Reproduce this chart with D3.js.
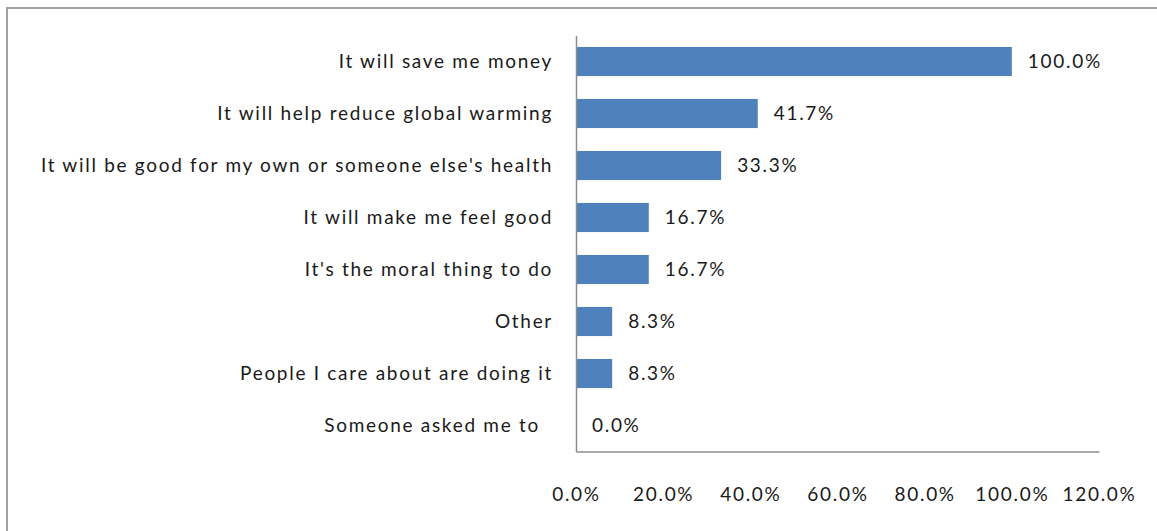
<!DOCTYPE html>
<html>
<head>
<meta charset="utf-8">
<script src="https://cdn.jsdelivr.net/npm/d3@7"></script>
<style>
  body { margin: 0; background: #fff; }
  text { font-family: Lato, "Open Sans", sans-serif; fill: #1a1a1a; letter-spacing: 1.7px; white-space: pre; }
</style>
</head>
<body>
<div class="chart"></div>
<script>
const categories = [
  'It will save me money',
  'It will help reduce global warming',
  "It will be good for my own or someone else's health",
  'It will make me feel good',
  "It's the moral thing to do",
  'Other',
  'People I care about are doing it',
  'Someone asked me to  '
];
const values = [1.0, 0.417, 0.333, 0.167, 0.167, 0.083, 0.083, 0.0];
const xTicks = [0, 0.2, 0.4, 0.6, 0.8, 1.0, 1.2];

const width = 1157;
const height = 531;
const plot = {left: 576, right: 1099, top: 35.5, bottom: 451.5};
const pct = d3.format('.1%');
const font = 'Lato, "Open Sans", sans-serif';

const svg = d3.select('.chart').append('svg')
    .attr('width', width)
    .attr('height', height);

// chart area frame (top and left edges only)
svg.append('path')
    .attr('d', `M7,${height} V8 H${width}`)
    .attr('fill', 'none')
    .attr('stroke', '#a0a0a0')
    .attr('stroke-width', 2);

const xScale = d3.scaleLinear()
    .domain([0, 1.2])
    .range([plot.left, plot.right]);

const yScale = d3.scaleBand()
    .domain(categories)
    .range([plot.top, plot.bottom])
    .paddingInner(0.44)
    .paddingOuter(0.22);

const bars = svg.append('g').attr('class', 'bars');
bars.selectAll('rect')
    .data(values)
  .enter().append('rect')
    .attr('x', xScale(0) + 1)
    .attr('y', (d, i) => yScale(categories[i]))
    .attr('width', d => Math.max(0, xScale(d) - xScale(0) - 1))
    .attr('height', yScale.bandwidth())
    .attr('fill', '#4f81bd');

bars.selectAll('text')
    .data(values)
  .enter().append('text')
    .attr('x', d => xScale(d) + 16)
    .attr('y', (d, i) => yScale(categories[i]) + yScale.bandwidth() / 2)
    .attr('dy', '0.35em')
    .attr('font-size', 19)
    .text(d => pct(d));

// category axis
const yAxis = svg.append('g')
    .attr('class', 'axis axis--y')
    .attr('transform', `translate(${plot.left},0)`)
    .call(d3.axisLeft(yScale).tickSize(0).tickPadding(23));
yAxis.select('.domain').attr('stroke', '#8c8c8c').attr('stroke-width', 1.5);
yAxis.selectAll('text')
    .attr('font-size', 19)
    .attr('font-family', font)
    .attr('fill', '#1a1a1a');

// value axis
const xAxis = svg.append('g')
    .attr('class', 'axis axis--x')
    .attr('transform', `translate(0,${plot.bottom})`)
    .call(d3.axisBottom(xScale).tickValues(xTicks).tickFormat(pct).tickSize(0).tickPadding(36));
xAxis.select('.domain').attr('stroke', '#8c8c8c').attr('stroke-width', 1.5);
xAxis.selectAll('text')
    .attr('font-size', 19)
    .attr('font-family', font)
    .attr('fill', '#1a1a1a');
</script>
</body>
</html>
